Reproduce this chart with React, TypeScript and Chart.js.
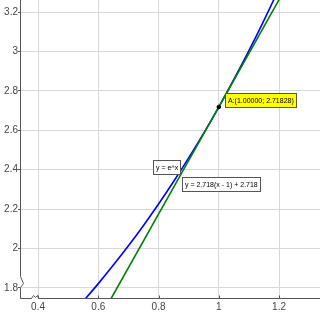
import React, { useEffect, useRef } from "react";
import { Chart, registerables } from "chart.js";

Chart.register(...registerables);

// e^x curve
const curveX = [0.5, 0.55, 0.6, 0.65, 0.7, 0.75, 0.8, 0.85, 0.9, 0.95, 1.0, 1.05, 1.1, 1.15, 1.2, 1.25];
const curveY = [1.649, 1.733, 1.822, 1.916, 2.014, 2.117, 2.226, 2.340, 2.460, 2.586, 2.718, 2.858, 3.004, 3.158, 3.320, 3.490];
// tangent line y = 2.718(x - 1) + 2.718
const tangentX = [0.6, 1.25];
const tangentY = [1.631, 3.398];
// point A
const pointX = [1.0];
const pointY = [2.71828];
// tick labels
const xTicks = [0.4, 0.6, 0.8, 1, 1.2];
const yTicks = [1.8, 2, 2.2, 2.4, 2.6, 2.8, 3, 3.2];
const curveLabel = "y = e^x";
const tangentLabel = "y = 2.718(x - 1) + 2.718";
const pointLabel = "A:(1.00000; 2.71828)";

const FONT = "7px 'Liberation Sans', Arial, sans-serif";

function drawBox(ctx: CanvasRenderingContext2D, text: string, x: number, y: number, fill: string) {
  ctx.font = FONT;
  const w = Math.round(ctx.measureText(text).width) + 6;
  const h = 15;
  ctx.fillStyle = fill;
  ctx.fillRect(x, y, w, h);
  ctx.strokeStyle = "#555";
  ctx.lineWidth = 1;
  ctx.strokeRect(x + 0.5, y + 0.5, w - 1, h - 1);
  ctx.fillStyle = "#000";
  ctx.textBaseline = "middle";
  ctx.textAlign = "left";
  ctx.fillText(text, x + 3, y + h / 2 + 0.5);
}

const overlay = {
  id: "overlay",
  afterDatasetsDraw(chart: any) {
    const { ctx, chartArea, scales } = chart;
    const xs = scales.x;
    const ys = scales.y;
    ctx.save();
    // axes with break marks
    ctx.strokeStyle = "#555";
    ctx.lineWidth = 1;
    const L = chartArea.left + 0.5;
    const B = chartArea.bottom - 0.5;
    ctx.beginPath();
    ctx.moveTo(L, chartArea.top);
    ctx.lineTo(L, B - 22);
    ctx.lineTo(L + 3, B - 15);
    ctx.lineTo(L, B - 11);
    ctx.lineTo(L, B);
    ctx.lineTo(L + 11, B);
    ctx.lineTo(L + 13, B - 3);
    ctx.lineTo(L + 15, B - 1);
    ctx.lineTo(L + 17, B - 3);
    ctx.lineTo(L + 18, B);
    ctx.lineTo(chartArea.right, B);
    ctx.stroke();
    // x tick marks pointing up
    ctx.beginPath();
    for (const v of xTicks) {
      const px = Math.round(xs.getPixelForValue(v)) + 0.5;
      ctx.moveTo(px, B);
      ctx.lineTo(px, B - 3);
    }
    ctx.stroke();
    // labels
    drawBox(ctx, curveLabel, Math.round(xs.getPixelForValue(0.78)), Math.round(ys.getPixelForValue(2.449)), "#fff");
    drawBox(ctx, tangentLabel, Math.round(xs.getPixelForValue(0.877)), Math.round(ys.getPixelForValue(2.3625)), "#fff");
    const ax = xs.getPixelForValue(pointX[0]);
    const ay = ys.getPixelForValue(pointY[0]);
    drawBox(ctx, pointLabel, Math.round(ax + 6), Math.round(ay - 14), "#ffff00");
    ctx.restore();
  },
};

export default function App() {
  const ref = useRef<HTMLCanvasElement>(null);
  useEffect(() => {
    if (!ref.current) return;
    const tickFont = { family: "'Liberation Sans', Arial, sans-serif", size: 10 };
    const chart = new Chart(ref.current, {
      type: "scatter",
      data: {
        datasets: [
          {
            data: curveX.map((x, i) => ({ x, y: curveY[i] })),
            showLine: true,
            borderColor: "#0000ff",
            borderWidth: 1.6,
            pointRadius: 0,
            cubicInterpolationMode: "monotone",
            order: 2,
          },
          {
            data: tangentX.map((x, i) => ({ x, y: tangentY[i] })),
            showLine: true,
            borderColor: "#008000",
            borderWidth: 1.6,
            pointRadius: 0,
            order: 1,
          },
          {
            data: pointX.map((x, i) => ({ x, y: pointY[i] })),
            showLine: false,
            pointRadius: 1.8,
            pointBackgroundColor: "#000",
            pointBorderColor: "#000",
            order: 0,
          },
        ],
      },
      options: {
        responsive: false,
        animation: false,
        devicePixelRatio: 1,
        layout: { padding: 0, autoPadding: false },
        plugins: { legend: { display: false }, tooltip: { enabled: false } },
        scales: {
          x: {
            type: "linear",
            min: 0.34,
            max: 1.336,
            afterBuildTicks: (s: any) => {
              s.ticks = xTicks.map((v) => ({ value: v }));
            },
            afterFit: (s: any) => {
              s.height = 16;
              s.paddingLeft = 0;
              s.paddingRight = 0;
              s.paddingTop = 0;
              s.paddingBottom = 0;
            },
            border: { display: false },
            grid: { color: "#d8d8d8", lineWidth: 1, tickLength: 0 },
            ticks: {
              color: "#444",
              font: tickFont,
              padding: 2,
              maxRotation: 0,
              autoSkip: false,
              callback: (v: any) => String(v),
            },
          },
          y: {
            type: "linear",
            min: 1.744,
            max: 3.261,
            afterBuildTicks: (s: any) => {
              s.ticks = yTicks.map((v) => ({ value: v }));
            },
            afterFit: (s: any) => {
              s.width = 20;
              s.paddingLeft = 0;
              s.paddingRight = 0;
              s.paddingTop = 0;
              s.paddingBottom = 0;
            },
            border: { display: false },
            grid: { color: "#d8d8d8", lineWidth: 1, tickLength: 2, tickColor: "#555" },
            ticks: {
              color: "#444",
              font: tickFont,
              padding: 0,
              autoSkip: false,
              callback: (v: any) => String(v),
            },
          },
        },
      },
      plugins: [overlay],
    } as any);
    return () => chart.destroy();
  }, []);
  return (
    <div style={{ position: "absolute", left: 0, top: 0, width: 320, height: 315, background: "#fff" }}>
      <canvas ref={ref} width={320} height={315} />
    </div>
  );
}
